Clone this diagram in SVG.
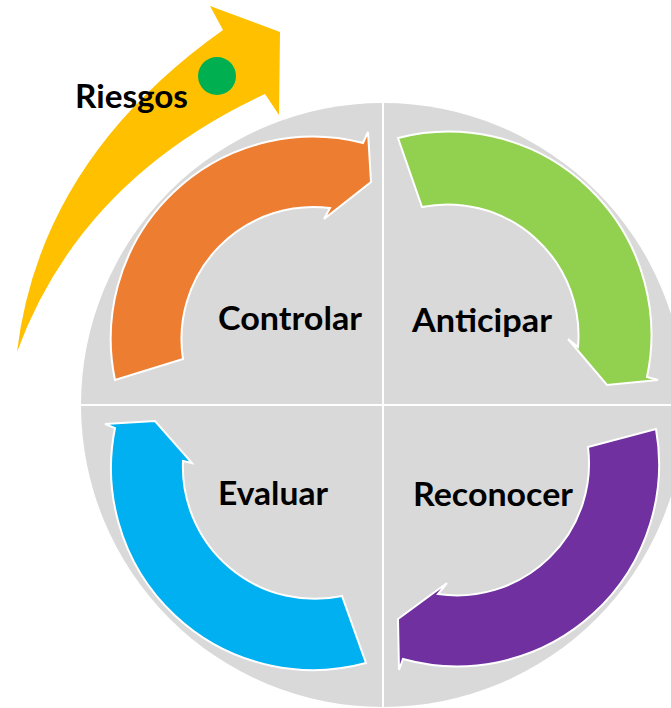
<svg xmlns="http://www.w3.org/2000/svg" width="671" height="708" viewBox="0 0 671 708">
  <style>
    .lbl { font-family: Lato, "Open Sans", "Liberation Sans", sans-serif; font-weight: 700; font-size: 32px; fill: #000000; }
    .arr { stroke: #FFFFFF; stroke-width: 2; stroke-linejoin: miter; }
    .div { stroke: #FFFFFF; stroke-width: 2; }
  </style>
  <defs>
    <clipPath id="circClip">
      <circle cx="383" cy="405" r="302"/>
    </clipPath>
  </defs>
  <rect x="0" y="0" width="671" height="708" fill="#FFFFFF"/>

  <g id="background">
    <circle cx="383" cy="405" r="302" fill="#D9D9D9"/>
    <g clip-path="url(#circClip)">
      <line class="div" x1="383" y1="90" x2="383" y2="720"/>
      <line class="div" x1="70" y1="405" x2="700" y2="405"/>
    </g>
  </g>

  <g id="riesgos">
    <path fill="#FFC000" d="M17,352 Q40,160 223,30 L210,6 L280,32 L279,115 L265,94 Q80,180 17,352 Z"/>
    <circle cx="217" cy="76" r="19" fill="#00B050"/>
    <text class="lbl" x="75" y="108" textLength="113" lengthAdjust="spacingAndGlyphs">Riesgos</text>
  </g>

  <g id="connectors">
    <path id="arc-controlar" class="arr" fill="#ED7D31" d="M115,380 A202,202 0 0 1 363,143 L368,132 L371,182 L324,219 L330,208 A132,132 0 0 0 183,359 Z"/>
    <path id="arc-anticipar" class="arr" fill="#92D050" d="M398,138 A203,203 0 0 1 647,377 L658,380 L607,385 L568,339 L578,347 A131,131 0 0 0 422,207 Z"/>
    <path id="arc-reconocer" class="arr" fill="#7030A0" d="M656,429 A202,202 0 0 1 403,659 L399,670 L398,619 L447,583 L438,594 A132,132 0 0 0 588,447 Z"/>
    <path id="arc-evaluar" class="arr" fill="#00B0F0" d="M366,663 A202,202 0 0 1 115,428 L105,424 L155,421 L192,463 L183,461 A132,132 0 0 0 342,596 Z"/>
  </g>

  <g id="controlar">
    <text class="lbl" x="218" y="330" textLength="144" lengthAdjust="spacingAndGlyphs">Controlar</text>
  </g>
  <g id="anticipar">
    <text class="lbl" x="412" y="332" textLength="140" lengthAdjust="spacingAndGlyphs">Anticipar</text>
  </g>
  <g id="evaluar">
    <text class="lbl" x="218" y="505" textLength="110" lengthAdjust="spacingAndGlyphs">Evaluar</text>
  </g>
  <g id="reconocer">
    <text class="lbl" x="413" y="506" textLength="160" lengthAdjust="spacingAndGlyphs">Reconocer</text>
  </g>
</svg>
